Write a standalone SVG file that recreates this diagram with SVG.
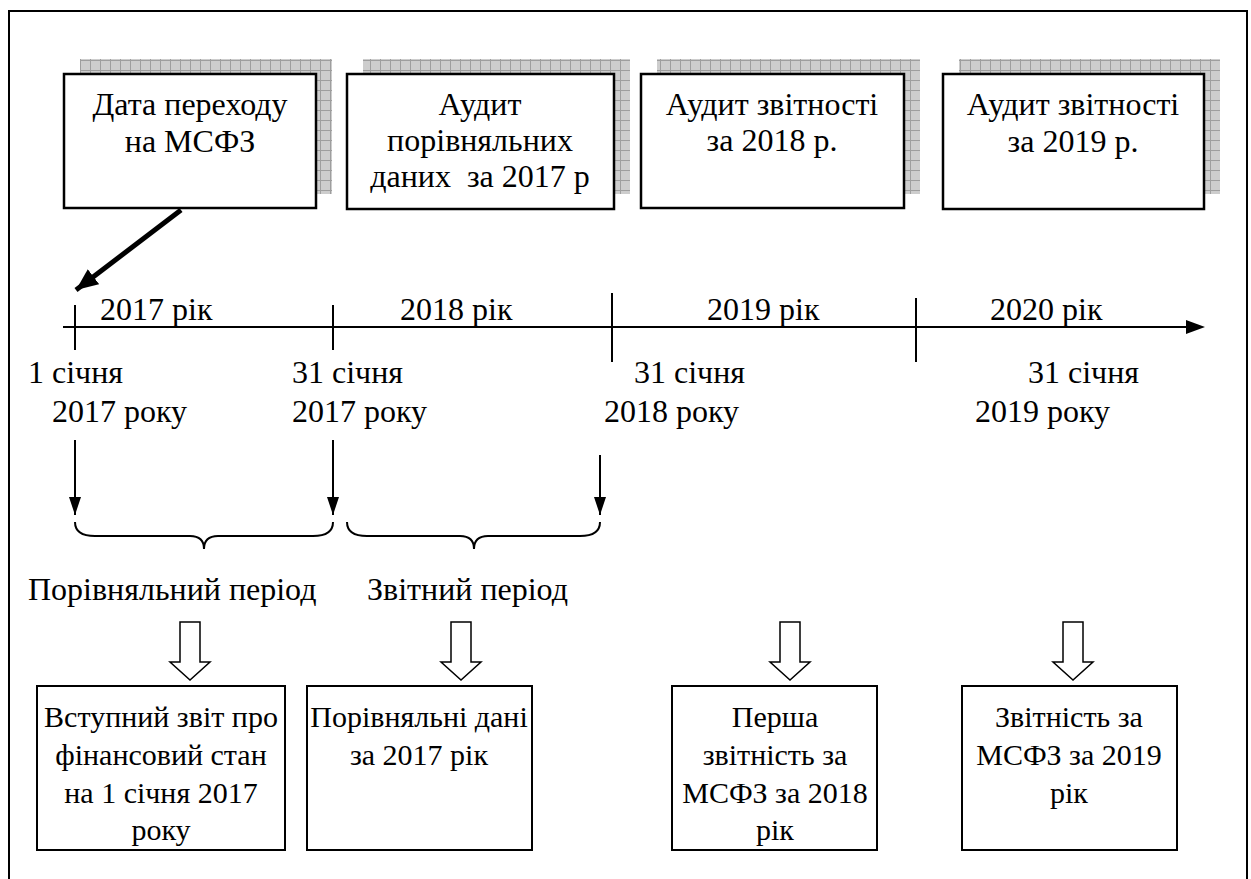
<svg xmlns="http://www.w3.org/2000/svg" width="1251" height="879" viewBox="0 0 1251 879" font-family="Liberation Serif, DejaVu Serif, serif">
<style>
text{font-size:32px;fill:#000}
.c{text-anchor:middle}
.s{font-size:30px}
.box{fill:#fff;stroke:#000;stroke-width:2.5}
.bbox{fill:#fff;stroke:#000;stroke-width:2}
.ln{stroke:#000;stroke-width:2;fill:none}
.hollow{fill:#fff;stroke:#000;stroke-width:1.5}
</style>
<defs>
<pattern id="grid" width="10" height="10" patternUnits="userSpaceOnUse">
<rect width="10" height="10" fill="#cdcdcd"/>
<path d="M0 0.5H10M0.5 0V10" stroke="#9e9e9e" stroke-width="1"/>
</pattern>
<marker id="ah" viewBox="0 0 18 12" refX="18" refY="6" markerWidth="18" markerHeight="12" markerUnits="userSpaceOnUse" orient="auto"><path d="M0 0L18 6L0 12z" fill="#000"/></marker>
<marker id="ahs" viewBox="0 0 14 12" refX="14" refY="6" markerWidth="22" markerHeight="19" markerUnits="userSpaceOnUse" orient="auto"><path d="M0 0L14 6L0 12z" fill="#000"/></marker>
</defs>
<rect x="0" y="0" width="1251" height="879" fill="#fff"/>
<path d="M9 890V11H1247V890" fill="none" stroke="#000" stroke-width="2"/>

<g id="top1"><rect x="80" y="59" width="252" height="135" fill="url(#grid)"/><rect class="box" x="64" y="74" width="252" height="134"/><text class="c" x="190" y="115">Дата переходу</text><text class="c" x="190" y="152">на МСФЗ</text></g>
<g id="top2"><rect x="363" y="59" width="267" height="135" fill="url(#grid)"/><rect class="box" x="347" y="74" width="267" height="135"/><text class="c" x="480" y="115">Аудит</text><text class="c" x="480" y="151">порівняльних</text><text class="c" x="480" y="187" xml:space="preserve">даних  за 2017 р</text></g>
<g id="top3"><rect x="657" y="59" width="263" height="135" fill="url(#grid)"/><rect class="box" x="641" y="74" width="263" height="134"/><text class="c" x="772" y="115">Аудит звітності</text><text class="c" x="772" y="151">за 2018 р.</text></g>
<g id="top4"><rect x="959" y="59" width="261" height="135" fill="url(#grid)"/><rect class="box" x="943" y="74" width="261" height="135"/><text class="c" x="1073" y="115">Аудит звітності</text><text class="c" x="1073" y="152">за 2019 р.</text></g>

<g id="timeline">
<line class="ln" x1="63" y1="327" x2="1190" y2="327"/>
<path d="M1186 320L1205 327L1186 334z" fill="#000"/>
<line class="ln" x1="75" y1="305" x2="75" y2="350"/>
<line class="ln" x1="333" y1="305" x2="333" y2="350"/>
<line class="ln" x1="612" y1="293" x2="612" y2="362"/>
<line class="ln" x1="916" y1="298" x2="916" y2="362"/>
<text x="100" y="320">2017 рік</text>
<text x="400" y="320">2018 рік</text>
<text x="707" y="320">2019 рік</text>
<text x="990" y="320">2020 рік</text>
<text x="28" y="383">1 січня</text>
<text x="52" y="422">2017 року</text>
<text x="292" y="383">31 січня</text>
<text x="292" y="422">2017 року</text>
<text x="634" y="383">31 січня</text>
<text x="604" y="422">2018 року</text>
<text x="1028" y="383">31 січня</text>
<text x="975" y="422">2019 року</text>
<text x="28" y="600">Порівняльний період</text>
<text x="367" y="600">Звітний період</text>
</g>

<g id="connectors">
<line x1="181" y1="210" x2="76" y2="290" stroke="#000" stroke-width="5" marker-end="url(#ahs)"/>
<line class="ln" x1="75" y1="440" x2="75" y2="515" marker-end="url(#ah)"/>
<line class="ln" x1="333" y1="440" x2="333" y2="515" marker-end="url(#ah)"/>
<line class="ln" x1="600" y1="455" x2="600" y2="515" marker-end="url(#ah)"/>
<path class="ln" d="M75 522Q75 536 95 536H190Q204 536 204 549Q204 536 218 536H313Q333 536 333 522"/>
<path class="ln" d="M347 522Q347 536 367 536H460Q474 536 474 549Q474 536 488 536H580Q600 536 600 522"/>
<path class="hollow" d="M180 622H200V662H210L190 680L170 662H180Z"/>
<path class="hollow" d="M451 622H471V662H481L461 680L441 662H451Z"/>
<path class="hollow" d="M780 622H800V662H810L790 680L770 662H780Z"/>
<path class="hollow" d="M1063 622H1083V662H1093L1073 680L1053 662H1063Z"/>
</g>

<g id="bot1"><rect class="bbox" x="37" y="686" width="248" height="164"/><text class="c s" x="161" y="727">Вступний звіт про</text><text class="c s" x="161" y="765">фінансовий стан</text><text class="c s" x="161" y="803">на 1 січня 2017</text><text class="c s" x="161" y="840">року</text></g>
<g id="bot2"><rect class="bbox" x="307" y="686" width="225" height="164"/><text class="c s" x="419" y="727">Порівняльні дані</text><text class="c s" x="419" y="765">за 2017 рік</text></g>
<g id="bot3"><rect class="bbox" x="672" y="686" width="205" height="164"/><text class="c s" x="775" y="727">Перша</text><text class="c s" x="775" y="765">звітність за</text><text class="c s" x="775" y="803">МСФЗ за 2018</text><text class="c s" x="775" y="840">рік</text></g>
<g id="bot4"><rect class="bbox" x="962" y="686" width="215" height="164"/><text class="c s" x="1069" y="727">Звітність за</text><text class="c s" x="1069" y="765">МСФЗ за 2019</text><text class="c s" x="1069" y="803">рік</text></g>
</svg>
